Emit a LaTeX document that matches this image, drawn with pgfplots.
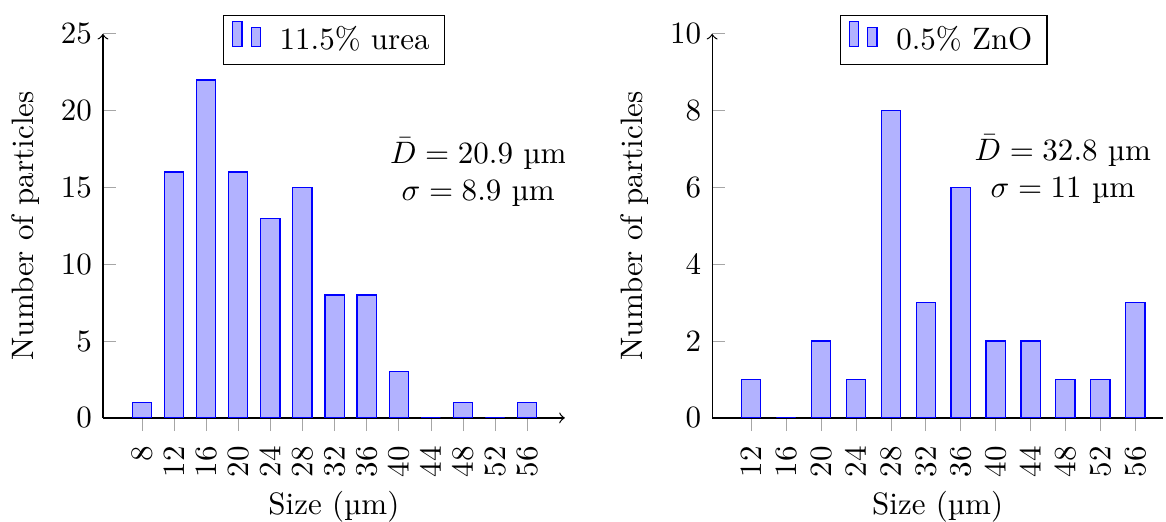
\documentclass[border=0pt]{standalone}
\usepackage{pgfplots}
\pgfplotsset{compat=1.18}
\begin{document}
\begin{tikzpicture}
\useasboundingbox (-33.2pt,-33.5pt) rectangle (342.9pt,134.8pt);
\pgfplotsset{
  histo/.style={
    scale only axis,
    height=123.9pt,
    ybar,
    bar width=6.2pt,
    axis lines=left,
    ymin=0,
    xtick=data,
    xticklabel style={rotate=90, anchor=east, xshift=-1.3pt},
    major tick style={gray!70},
    xtick align=outside,
    ytick align=inside,
    x axis line style={-to},
    y axis line style={-to},
    xlabel={Size (µm)},
    xlabel style={at={(axis description cs:0.5,0)}, anchor=north, yshift=-20pt},
    ylabel={Number of particles},
    legend style={at={(0.5,1)}, anchor=north, yshift=6.1pt, draw=black,
      legend columns=1, column sep=4pt, inner ysep=1.4pt, inner xsep=2.7pt},
  }
}
\begin{axis}[histo,
  at={(0pt,0pt)}, anchor=south west,
  width=149pt,
  xmin=3.14, xmax=60.7,
  ymax=25, ytick={0,5,10,15,20,25},
]
\addplot[draw=blue, fill=blue!30] coordinates {
 (8,1) (12,16) (16,22) (20,16) (24,13) (28,15) (32,8) (36,8) (40,3) (44,0) (48,1) (52,0) (56,1)};
\legend{11.5\% urea}
\node[align=center] at (axis cs:49.9,16.0) {$\bar{D} = 20.9$~µm\\$\sigma = 8.9$~µm};
\end{axis}
\begin{axis}[histo,
  at={(196.5pt,0pt)}, anchor=south west,
  width=145.5pt,
  xmin=7.53, xmax=59.2,
  ymax=10, ytick={0,2,4,6,8,10},
  x axis line style={-},
  legend style={at={(0.513,1)}},
]
\addplot[draw=blue, fill=blue!30] coordinates {
 (12,1) (16,0) (20,2) (24,1) (28,8) (32,3) (36,6) (40,2) (44,2) (48,1) (52,1) (56,3)};
\legend{0.5\% ZnO}
\node[align=center] at (axis cs:47.7,6.48) {$\bar{D} = 32.8$~µm\\$\sigma = 11$~µm};
\end{axis}
\end{tikzpicture}
\end{document}
